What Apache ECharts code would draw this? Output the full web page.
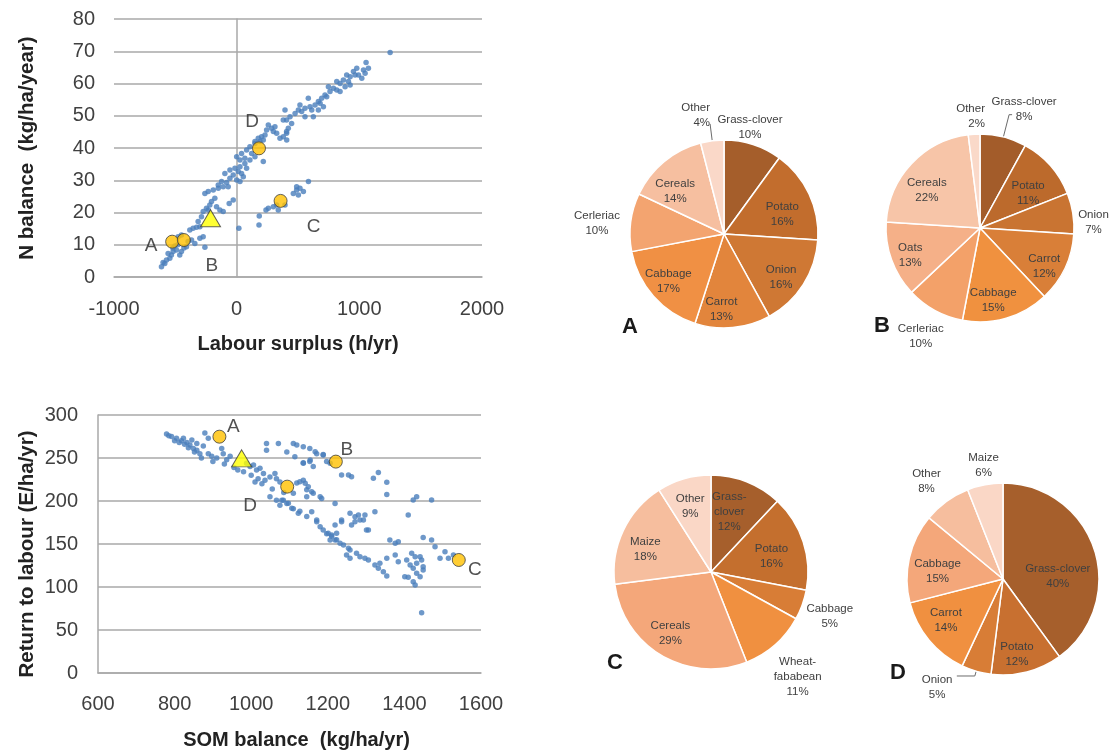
<!DOCTYPE html>
<html><head><meta charset="utf-8">
<script src="https://cdn.jsdelivr.net/npm/echarts@6/dist/echarts.min.js"></script>
<style>html,body{margin:0;padding:0;background:#fff;}#c{width:1109px;height:753px;}</style>
</head><body><div id="c"></div>
<script>
// ================= DATA =================
// Top scatter: Labour surplus (h/yr) vs N balance (kg/ha/year)
const topXTicks = [-1000, 0, 1000, 2000];
const topYTicks = [0, 10, 20, 30, 40, 50, 60, 70, 80];
const nBalancePoints = [
[-613,3.2],[-600,4.5],[-586,4.2],[-572,5.3],[-545,5.8],[-532,6.8],[-559,7.3],[-518,7.9],[-491,8.4],[-464,6.8],[-450,7.9],[-504,9.6],[-520,9.0],[-480,10.0],[-477,12.5],[-450,13.0],[-430,9.0],[-409,9.4],[-396,11.0],[-368,11.5],[-341,10.4],[-300,12.0],[-273,12.5],[-259,9.2],[-382,14.6],[-327,15.4],[-314,17.2],[-287,18.7],[-273,20.3],[-246,21.3],[-205,23.4],[-178,24.4],[-219,22.3],[-164,21.8],[-137,20.8],[-110,20.3],[-28,23.9],[-61,22.8],[-259,25.9],[-232,26.5],[-191,27.0],[-150,27.5],[-110,28.0],[-69,28.0],[-82,29.3],[-55,30.6],[-28,31.6],[13,32.7],[40,32.1],[0,30.1],[27,29.6],[54,31.1],[-96,32.1],[-55,33.2],[-14,33.7],[27,34.2],[67,35.2],[81,33.7],[108,36.3],[149,37.3],[122,38.3],[217,35.8],[67,36.8],[27,36.3],[0,37.3],[40,38.3],[81,39.4],[108,40.4],[149,41.4],[190,42.0],[217,42.5],[-123,29.6],[-150,28.5],[-300,15.6],[-355,15.1],[-232,20.8],
[18,15.1],[182,16.1],[184,18.9],[239,20.8],[258,21.3],[299,21.8],[339,20.8],[326,22.3],[394,22.3],[462,25.9],[489,27.0],[516,27.5],[544,26.5],[503,25.4],[585,29.6],[489,28.0],
[408,42.5],[1251,69.6],[1055,66.5],[1074,64.7],[1047,63.2],[1020,61.6],[979,64.7],[952,63.7],[965,62.6],[925,62.1],[897,62.6],[911,60.6],[870,61.1],[843,60.0],[816,60.6],[884,59.0],[816,58.0],[789,58.5],[761,57.5],[748,59.0],[720,56.4],[693,55.4],[680,53.9],[707,52.8],[666,54.4],[639,53.3],[612,51.8],[584,55.4],[598,52.8],[557,52.3],[530,51.3],[503,51.8],[516,53.3],[625,49.7],[557,49.7],[476,50.7],[435,49.7],[407,48.7],[394,51.8],[448,47.6],[421,46.1],[407,44.6],[380,43.5],[407,45.1],[312,46.6],[299,45.1],[285,46.1],[258,47.1],[244,45.6],[326,44.6],[231,44.0],[203,43.5],[176,43.0],[149,42.0],[353,43.0],[380,48.7],[666,51.8],[734,55.9],[843,57.5],[925,59.5],[993,62.6],[1034,64.2]
];
const farmNames = ['A', 'B', 'C', 'D'];
const topFarmX = [-526, -431, 358, 182];
const topFarmY = [10.95, 11.47, 23.6, 39.9];
const topMeanX = [-213];
const topMeanY = [18.2];

// Bottom scatter: SOM balance (kg/ha/yr) vs Return to labour (E/ha/yr)
const botXTicks = [600, 800, 1000, 1200, 1400, 1600];
const botYTicks = [0, 50, 100, 150, 200, 250, 300];
const returnPoints = [
[779,278],[792,275],[805,273],[818,270],[832,268],[840,265],[849,261],[858,259],[866,255],[879,279],[888,273],[897,252],[910,250],[923,261],[927,255],[936,248],[945,252],[888,255],[875,264],[858,267],[845,271],[823,273],[988,244],[997,240],[1006,242],[1014,236],[1023,238],[1032,232],[1010,222],[1036,224],[1049,228],[1062,232],[1066,226],[1075,222],[1049,205],[1066,201],[1084,201],[1093,197],[1075,195],[1110,191],[1127,188],[1145,182],[1171,178],[1180,170],[1197,162],[1210,159],[1223,155],[1232,151],[1119,221],[1136,224],[1145,213],[1162,209],[1180,205],[1184,203],[1040,267],[1071,267],[1040,259],[1093,257],[1110,267],[1119,265],[1136,263],[1153,261],[1171,255],[1188,254],[1136,244],[1153,246],[1162,240],[1197,246],[1206,244],[1219,197],[1236,178],
[785,276],[800,270],[812,268],[826,266],[836,262],[852,257],[870,250],[900,246],[930,243],[955,239],[965,236],[980,234],[1000,230],[1018,226],[1028,220],[1055,214],[1085,210],
[1114,251.5],[1136,244.6],[1154,247.7],[1167,257.4],[1188,253.5],[1236,230.2],[1254,230.2],[1262,228.3],[1319,226.4],[1332,233],[1354,221.7],[1354,207.7],[1127,222.5],[1141,220.5],[1149,216.7],[1158,210.9],[1145,205],[1110,209],[1080,201],[1097,197.3],[1106,191.5],[1123,185.7],[1158,187.6],[1258,185.7],[1271,181.8],[1280,183.7],[1284,177.9],[1293,177.9],[1297,183.7],[1323,187.6],[1301,166.3],[1306,166.3],[1271,176],[1262,172.1],[1236,176],[1219,172.1],[1210,160.5],[1219,154.6],[1241,148.8],[1254,145],[1258,143],[1275,139.1],[1284,135.3],[1297,133.3],[1306,131.4],[1323,125.6],[1332,121.7],[1345,117.8],[1354,112.8],[1336,127.5],[1354,133.3],[1376,137.2],[1384,129.5],[1362,154.6],[1376,150.8],[1384,152.7],[1406,131.4],[1415,125.6],[1423,121.7],[1432,127.5],[1445,131.4],[1449,123.6],[1401,112],[1410,111.2],[1423,106.2],[1428,102.3],[1432,115.9],[1441,112],[1449,119.8],[1419,139.1],[1428,135.3],[1441,135.3],[1410,183.7],[1423,201.2],[1432,205],[1471,201.2],[1449,157.7],[1471,154.6],[1480,146.9],[1493,133.3],[1506,141.1],[1515,133.3],[1528,137.2],[1445,70.2],[1171,176],[1188,166.3],[1201,162.4],[1206,154.6],[1223,162.4],[1249,137.2],[1258,133.3]
];
const botFarmX = [917, 1221, 1542, 1094];
const botFarmY = [274.8, 245.8, 131.4, 216.7];
const botMeanX = [975];
const botMeanY = [249.6];

// Crop shares (%) of farms A-D
const pieANames = ['Grass-clover','Potato','Onion','Carrot','Cabbage','Cerleriac','Cereals','Other'];
const pieAValues = [10,16,16,13,17,10,14,4];
const pieBNames = ['Grass-clover','Potato','Onion','Carrot','Cabbage','Cerleriac','Oats','Cereals','Other'];
const pieBValues = [8,11,7,12,15,10,13,22,2];
const pieCNames = ['Grass-clover','Potato','Cabbage','Wheat-fababean','Cereals','Maize','Other'];
const pieCValues = [12,16,5,11,29,18,9];
const pieDNames = ['Grass-clover','Potato','Onion','Carrot','Cabbage','Other','Maize'];
const pieDValues = [40,12,5,14,15,8,6];

// ================= STYLE / LAYOUT =================
const FONT = 'Liberation Sans, Arial, sans-serif';
const GRIDC = '#a9a9a9';
const DOT = '#4A7EBB';
const topLetterOffset = {A:[-21,4], B:[28,26], C:[33,26], D:[-7,-27]};
const botLetterOffset = {A:[14,-10], B:[11,-12], C:[16,10], D:[-37,19]};

// inner: labels placed inside at 0.7 r; outer: labels placed at outerDist; main: labels drawn by the slice series itself
const pieStyle = {
  A: { center:[724,234], r:94, outerDist:115, letter:[622,316],
       colors:['#A55E2B','#C26D2D','#CF7834','#E2853C','#F09044','#F3A470','#F6BFA0','#FAD8C8'],
       inner:{'Potato':[-4,10],'Onion':[-1,6],'Carrot':[-9,7],'Cabbage':[-4,2],'Cereals':[-5,10]},
       outer:{'Grass-clover':[-10.5,6],'Cerleriac':[-10,4.5]},
       main:{'Other':{len:17, len2:0, line:true, spacer:18}},
       leaderOnly:{}, breaks:{} },
  B: { center:[980,228], r:94, outerDist:118, letter:[874,315],
       colors:['#A35C2A','#BC6A2C','#C97432','#D97F38','#F0913F','#F3A169','#F5B088','#F7C5A8','#FAD9C9'],
       inner:{'Potato':[-3.5,11],'Carrot':[2,9],'Cabbage':[-6,6.5],'Oats':[-5,4.5],'Cereals':[-3,9.5]},
       outer:{'Grass-clover':[14,-1],'Onion':[-6,13],'Cerleriac':[-1,2.5]},
       main:{'Other':{len:18, len2:-12, line:false, spacer:0}},
       leaderOnly:{'Grass-clover':[23,3]}, breaks:{} },
  C: { center:[711,572], r:97, outerDist:128, letter:[607,652],
       colors:['#A65F2C','#C46F2E','#D87D36','#F09040','#F4A77A','#F6BE9E','#FAD7C6'],
       inner:{'Potato':[-7,6],'Cereals':[-4.5,0],'Maize':[-1.5,7.5],'Other':[-1,2.5]},
       outer:{'Grass-clover':[-30,62],'Cabbage':[-4.5,0],'Wheat-fababean':[0,6.5]},
       main:{}, leaderOnly:{},
       breaks:{'Grass-clover':'Grass-\nclover','Wheat-fababean':'Wheat-\nfababean'} },
  D: { center:[1003,579], r:96, outerDist:122, letter:[890,662],
       colors:['#A65F2C','#C87030','#D87D36','#F09040','#F4A77A','#F6BE9E','#FAD7C6'],
       inner:{'Grass-clover':[-12,19],'Potato':[-3.5,7],'Carrot':[-3,-3],'Cabbage':[3,7.5]},
       outer:{'Maize':[4,9],'Other':[-3,3.5],'Onion':[-31,-11.5]},
       main:{}, leaderOnly:{'Onion':[5,18]}, breaks:{} }
};
const PIE_LABEL = { color:'#404040', fontSize:11.5, lineHeight:15, fontFamily: FONT };
const LEADER = { color:'#6b6b6b', width:1 };

function buildPie(key, names, values) {
  const st = pieStyle[key];
  const disp = n => st.breaks[n] || n;
  const main = {
    type:'pie', center: st.center, radius: st.r, startAngle: 90, clockwise: true,
    avoidLabelOverlap:false, silent:true, emphasis:{disabled:true}, z:2,
    itemStyle:{ borderColor:'#ffffff', borderWidth:1.5 },
    label:{ show:false }, labelLine:{ show:false },
    data: names.map((n,i) => {
      const item = { name:n, value:values[i], itemStyle:{ color: st.colors[i] } };
      const m = st.main[n];
      const ld = st.leaderOnly[n];
      if (m) {
        item.label = Object.assign({ show:true, position:'outside', distanceToLabelLine:0,
          formatter: disp(n) + '\n' + values[i] + '%' + (m.spacer ? '\n{s| }' : ''),
          rich:{ s:{ fontSize:1, height:m.spacer, lineHeight:m.spacer } } }, PIE_LABEL);
        item.labelLine = { show:m.line, length:m.len, length2:m.len2, smooth:false, lineStyle:LEADER };
      } else if (ld) {
        item.label = { show:true, position:'outside', formatter:' ' };
        item.labelLine = { show:true, length: ld[0], length2: ld[1], smooth:false, lineStyle:LEADER };
      }
      return item;
    })
  };
  const overlay = (radius, set) => ({
    type:'pie', center: st.center, radius:[0, radius], startAngle:90, clockwise:true,
    avoidLabelOverlap:false, silent:true, emphasis:{disabled:true}, z:3,
    itemStyle:{ color:'rgba(0,0,0,0)', borderWidth:0 },
    labelLine:{ show:false },
    label: Object.assign({ show:true, position:'inside', formatter: p => disp(p.name) + '\n' + p.value + '%' }, PIE_LABEL),
    labelLayout: p => { const o = set[names[p.dataIndex]]; return o ? { dx:o[0], dy:o[1] } : {}; },
    data: names.map((n,i) => ({ name:n, value:values[i], label:{ show: set.hasOwnProperty(n) } }))
  });
  return [ main, overlay(st.r * 1.4, st.inner), overlay(st.outerDist * 2, st.outer) ];
}

function farmSeries(gridIdx, xs, ys, offsets) {
  return {
    type:'scatter', xAxisIndex:gridIdx, yAxisIndex:gridIdx, z:6, silent:true,
    symbol:'circle', symbolSize:13,
    itemStyle:{ color:'#FFC000', borderColor:'#3d3d3d', borderWidth:1 },
    data: farmNames.map((n,i) => ({
      name:n, value:[xs[i], ys[i]],
      label:{ show:true, formatter:n, position:'inside', offset: offsets[n], fontSize:19, color:'#262626', fontFamily: FONT }
    }))
  };
}
function meanSeries(gridIdx, xs, ys) {
  return {
    type:'scatter', xAxisIndex:gridIdx, yAxisIndex:gridIdx, z:7, silent:true,
    symbol:'triangle', symbolSize:[20,17],
    itemStyle:{ color:'#FFFF00', borderColor:'#3d3d3d', borderWidth:1 },
    data: xs.map((x,i) => [x, ys[i]])
  };
}
const TICKFONT = 20;
function tickLabel(margin) {
  return { color:'#404040', fontSize:TICKFONT, fontFamily:FONT, margin:margin, showMinLabel:true, showMaxLabel:true, formatter: v => String(v) };
}
function valueAxis(ticks, gridIdx, extra) {
  return Object.assign({
    type:'value', gridIndex:gridIdx, min: ticks[0], max: ticks[ticks.length-1], interval: ticks[1]-ticks[0],
    axisTick:{ show:false },
    nameTextStyle:{ fontWeight:'bold', fontSize:20, color:'#222', fontFamily:FONT }
  }, extra);
}

const chart = echarts.init(document.getElementById('c'), null, { renderer:'canvas' });
const option = {
  animation:false,
  backgroundColor:'#ffffff',
  grid:[
    { left:114, top:19, width:368, height:258, outerBoundsMode:'none', containLabel:false },
    { left:98, top:415, width:383, height:258, outerBoundsMode:'none', containLabel:false }
  ],
  xAxis:[
    valueAxis(topXTicks, 0, { name:'Labour surplus (h/yr)', nameLocation:'middle', nameGap:57,
      axisLine:{ show:true, onZero:false, lineStyle:{ color:GRIDC, width:1.5 } }, splitLine:{ show:false },
      axisLabel: tickLabel(22) }),
    valueAxis(botXTicks, 1, { name:'SOM balance  (kg/ha/yr)', nameLocation:'middle', nameGap:57,
      nameTextStyle:{ fontWeight:'bold', fontSize:20, color:'#222', fontFamily:FONT, padding:[0,0,0,14] },
      axisLine:{ show:true, onZero:false, lineStyle:{ color:GRIDC, width:1.5 } }, splitLine:{ show:false },
      axisLabel: tickLabel(21) })
  ],
  yAxis:[
    valueAxis(topYTicks, 0, { name:'N balance  (kg/ha/year)', nameLocation:'middle', nameGap:76,
      nameTextStyle:{ fontWeight:'bold', fontSize:20.5, color:'#222', fontFamily:FONT },
      axisLine:{ show:true, lineStyle:{ color:GRIDC, width:1.5 } },
      splitLine:{ show:true, lineStyle:{ color:GRIDC, width:1.5 } },
      axisLabel: tickLabel(19) }),
    valueAxis(botYTicks, 1, { name:'Return to labour (E/ha/yr)', nameLocation:'middle', nameGap:60,
      nameTextStyle:{ fontWeight:'bold', fontSize:20.5, color:'#222', fontFamily:FONT, padding:[0,20,0,0] },
      axisLine:{ show:true, lineStyle:{ color:GRIDC, width:1.5 } },
      splitLine:{ show:true, lineStyle:{ color:GRIDC, width:1.5 } },
      axisLabel: tickLabel(20) })
  ],
  graphic: Object.keys(pieStyle).map(k => ({
    type:'text', left: pieStyle[k].letter[0], top: pieStyle[k].letter[1], silent:true,
    style:{ text:k, font:'bold 22px ' + FONT, fill:'#1a1a1a' }
  })),
  series: [
    { type:'scatter', xAxisIndex:0, yAxisIndex:0, silent:true, symbolSize:5.5, itemStyle:{ color:DOT }, data: nBalancePoints },
    meanSeries(0, topMeanX, topMeanY),
    farmSeries(0, topFarmX, topFarmY, topLetterOffset),
    { type:'scatter', xAxisIndex:1, yAxisIndex:1, silent:true, symbolSize:5.5, itemStyle:{ color:DOT }, data: returnPoints },
    meanSeries(1, botMeanX, botMeanY),
    farmSeries(1, botFarmX, botFarmY, botLetterOffset)
  ].concat(buildPie('A', pieANames, pieAValues))
   .concat(buildPie('B', pieBNames, pieBValues))
   .concat(buildPie('C', pieCNames, pieCValues))
   .concat(buildPie('D', pieDNames, pieDValues))
};
chart.setOption(option);
</script>
</body></html>
